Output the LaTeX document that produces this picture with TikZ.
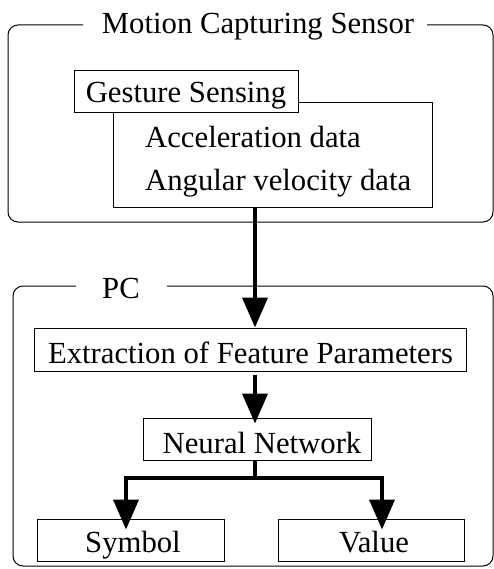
\documentclass[tikz,border=0pt]{standalone}
\usepackage{fontspec}
\setmainfont{Liberation Serif}
\usetikzlibrary{arrows.meta}
\begin{document}
\begin{tikzpicture}[x=1pt,y=-1pt,
  txt/.style={anchor=base,inner sep=0pt,font=\fontsize{30.7}{36}\selectfont},
  boxn/.style={draw,line width=1pt,inner sep=0pt},
  frame/.style={line width=1pt,rounded corners=10pt},
  flow/.style={line width=4pt,-{Triangle[width=25pt,length=30pt]}},
  flowline/.style={line width=4pt}]
\useasboundingbox (0,0) rectangle (494,569);
% frames
\draw[frame] (83,25) -- (8,25) -- (8,222) -- (493,222) -- (493,25) -- (427,25);
\node[txt] (mcs) at (258,34) {Motion Capturing Sensor};
\draw[frame] (76,286) -- (13,286) -- (13,566) -- (493,566) -- (493,286) -- (167,286);
\node[txt] (pc) at (121,298) {PC};
% sensor boxes
\node[boxn,minimum width=319pt,minimum height=104pt] (data) at (272.5,155) {};
\node[boxn,fill=white,minimum width=224pt,minimum height=42pt] (gs) at (186,92) {};
\node[txt] (gst) at (186,103) {Gesture Sensing};
\node[txt,anchor=base west] (acc) at (145,148) {Acceleration data};
\node[txt,anchor=base west] (ang) at (145,190) {Angular velocity data};
% PC boxes
\node[boxn,minimum width=432pt,minimum height=43pt] (ext) at (250,349.5) {};
\node[txt] (extt) at (250.5,363) {Extraction of Feature Parameters};
\node[boxn,minimum width=228pt,minimum height=42pt] (nn) at (257,439) {};
\node[txt] (nnt) at (262,453) {Neural Network};
\node[boxn,minimum width=187pt,minimum height=42pt] (sym) at (130.5,540) {};
\node[txt] (symt) at (133,552) {Symbol};
\node[boxn,minimum width=186pt,minimum height=42pt] (val) at (371,540) {};
\node[txt] (valt) at (374,552) {Value};
% connectors
\coordinate (spine) at (255,0);
\coordinate (left) at (126,0);
\coordinate (right) at (382,0);
\coordinate (split) at (255,478);
\draw[flow] (data.south -| spine) -- (ext.north -| spine);
\draw[flow] ([yshift=-3pt]ext.south -| spine) -- ([yshift=-6pt]nn.north -| spine);
\draw[flowline] (nn.south -| spine) -- (split);
\draw[flow] ([xshift=2pt]split) -| ([yshift=-11pt]sym.north -| left);
\draw[flow] ([xshift=-2pt]split) -| ([yshift=-11pt]val.north -| right);
\end{tikzpicture}
\end{document}
